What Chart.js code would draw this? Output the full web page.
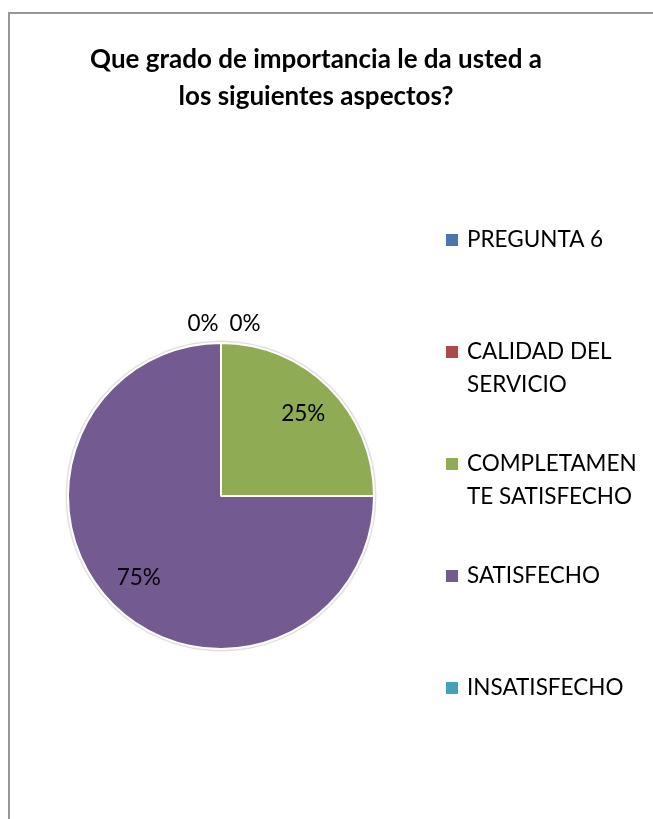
<!DOCTYPE html>
<html>
<head>
<meta charset="utf-8">
<script src="https://cdn.jsdelivr.net/npm/chart.js@4"></script>
<style>
    html, body { margin: 0; padding: 0; background: #fff; overflow: hidden; }
    #frame {
        position: absolute;
        left: 8px;
        top: 12px;
        width: 652px;
        height: 820px;
        border-left: 2px solid #979797;
        border-top: 2px solid #979797;
    }
    #chart { display: block; }
</style>
</head>
<body>
<div id="frame">
    <canvas id="chart" width="650" height="805"></canvas>
</div>
<script>
// chart data
const titleLines = ['Que grado de importancia le da usted a', 'los siguientes aspectos?'];
const categories = [
    'PREGUNTA 6',
    ['CALIDAD DEL', 'SERVICIO'],
    ['COMPLETAMEN', 'TE SATISFECHO'],
    'SATISFECHO',
    'INSATISFECHO'
];
const percentValues = [0, 0, 25, 75, 0];
const sliceColors = ['#4a76ab', '#b2484a', '#8fab53', '#735a91', '#45a0b9'];

const FONT = 'Lato, "Open Sans", sans-serif';

// title, drawn by hand so it can be wider than the pie area
const titleBlock = {
    id: 'titleBlock',
    afterDraw(chart) {
        const ctx = chart.ctx;
        ctx.save();
        ctx.font = 'bold 26px ' + FONT;
        ctx.fillStyle = '#000';
        ctx.textAlign = 'center';
        ctx.textBaseline = 'middle';
        titleLines.forEach((line, i) => {
            ctx.fillText(line, 306, 46 + i * 37);
        });
        ctx.restore();
    }
};

// custom legend on the right, one row every 112px
const sideLegend = {
    id: 'sideLegend',
    afterDraw(chart) {
        const ctx = chart.ctx;
        ctx.save();
        ctx.font = '22.5px ' + FONT;
        ctx.textBaseline = 'middle';
        ctx.textAlign = 'left';
        chart.data.labels.forEach((label, i) => {
            const lines = Array.isArray(label) ? label : [label];
            const y = 226 + i * 112;
            ctx.fillStyle = sliceColors[i];
            ctx.fillRect(436, y - 6, 12, 12);
            ctx.fillStyle = '#000';
            lines.forEach((line, j) => {
                ctx.fillText(line, 457, y + j * 33);
            });
        });
        ctx.restore();
    }
};

// percentage labels on / around the slices
const sliceLabels = {
    id: 'sliceLabels',
    afterDatasetsDraw(chart) {
        const ctx = chart.ctx;
        const meta = chart.getDatasetMeta(0);
        const data = chart.data.datasets[0].data;
        const total = data.reduce((a, b) => a + b, 0);
        ctx.save();
        ctx.font = '22.5px ' + FONT;
        ctx.fillStyle = '#000';
        ctx.textAlign = 'center';
        ctx.textBaseline = 'middle';
        let zeroCount = 0;
        meta.data.forEach((arc, i) => {
            const pct = Math.round(data[i] / total * 100) + '%';
            const {x, y, startAngle, endAngle, outerRadius} = arc.getProps(['x', 'y', 'startAngle', 'endAngle', 'outerRadius'], true);
            if (data[i] === 0) {
                // zero slices sit at the top, Excel spreads them sideways
                // and hides the ones that would overlap
                if (zeroCount < 2) {
                    const dx = zeroCount === 0 ? -18 : 24;
                    ctx.fillText(pct, x + dx, y - outerRadius - 19);
                }
                zeroCount++;
                return;
            }
            const mid = (startAngle + endAngle) / 2;
            const r = outerRadius * 0.76;
            ctx.fillText(pct, x + Math.cos(mid) * r, y + Math.sin(mid) * r);
        });
        ctx.restore();
    }
};

// faint outline around the pie
const pieShadow = {
    id: 'pieShadow',
    beforeDatasetsDraw(chart) {
        const arc = chart.getDatasetMeta(0).data[0];
        if (!arc) return;
        const ctx = chart.ctx;
        ctx.save();
        ctx.beginPath();
        ctx.arc(arc.x, arc.y, arc.outerRadius + 1.5, 0, Math.PI * 2);
        ctx.strokeStyle = 'rgba(0,0,0,0.12)';
        ctx.lineWidth = 2;
        ctx.stroke();
        ctx.restore();
    }
};

document.addEventListener('DOMContentLoaded', function() {
    const ctx = document.getElementById('chart').getContext('2d');
    new Chart(ctx, {
        type: 'pie',
        data: {
            labels: categories,
            datasets: [{
                data: percentValues,
                backgroundColor: sliceColors,
                borderColor: '#ffffff',
                borderWidth: 2
            }]
        },
        options: {
            responsive: false,
            animation: false,
            layout: {
                padding: { left: 57, right: 285, top: 328, bottom: 169 }
            },
            plugins: {
                legend: { display: false },
                tooltip: { enabled: false },
                title: { display: false }
            }
        },
        plugins: [pieShadow, sliceLabels, sideLegend, titleBlock]
    });
});
</script>
</body>
</html>
